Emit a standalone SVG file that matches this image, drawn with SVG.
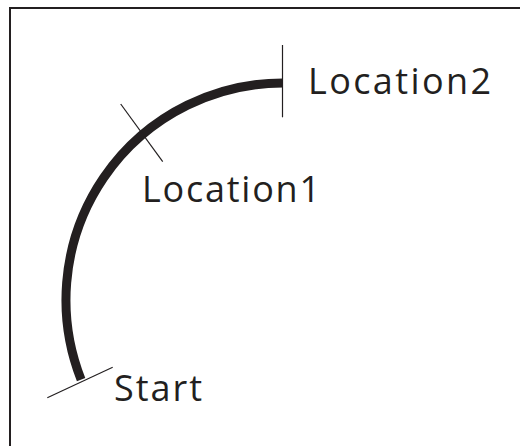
<svg xmlns="http://www.w3.org/2000/svg" width="520" height="446" viewBox="0 0 520 446">
  <style>
    .frame { fill: none; stroke: #231f20; stroke-width: 2; }
    .track { fill: none; stroke: #231f20; stroke-width: 9; stroke-linecap: butt; }
    .tick { stroke: #231f20; stroke-width: 1.2; fill: none; }
    .label { font-family: "Open Sans", "Noto Sans", "Liberation Sans", sans-serif; font-size: 36px; fill: #231f20; }
  </style>
  <rect class="frame" x="10" y="8" width="600" height="600"/>
  <g id="connectors">
    <path class="track" d="M 81.1 379.6 A 217 217 0 0 1 283 83"/>
  </g>
  <g id="start">
    <line class="tick" x1="47.3" y1="397.7" x2="112.7" y2="367.3"/>
    <text class="label" x="114" y="401" textLength="88" lengthAdjust="spacing">Start</text>
  </g>
  <g id="location1">
    <line class="tick" x1="120.7" y1="104" x2="162.7" y2="161.7"/>
    <text class="label" x="142" y="202" textLength="178" lengthAdjust="spacing">Location1</text>
  </g>
  <g id="location2">
    <line class="tick" x1="282.5" y1="45" x2="282.5" y2="117.3"/>
    <text class="label" x="308" y="94" textLength="183" lengthAdjust="spacing">Location2</text>
  </g>
</svg>
